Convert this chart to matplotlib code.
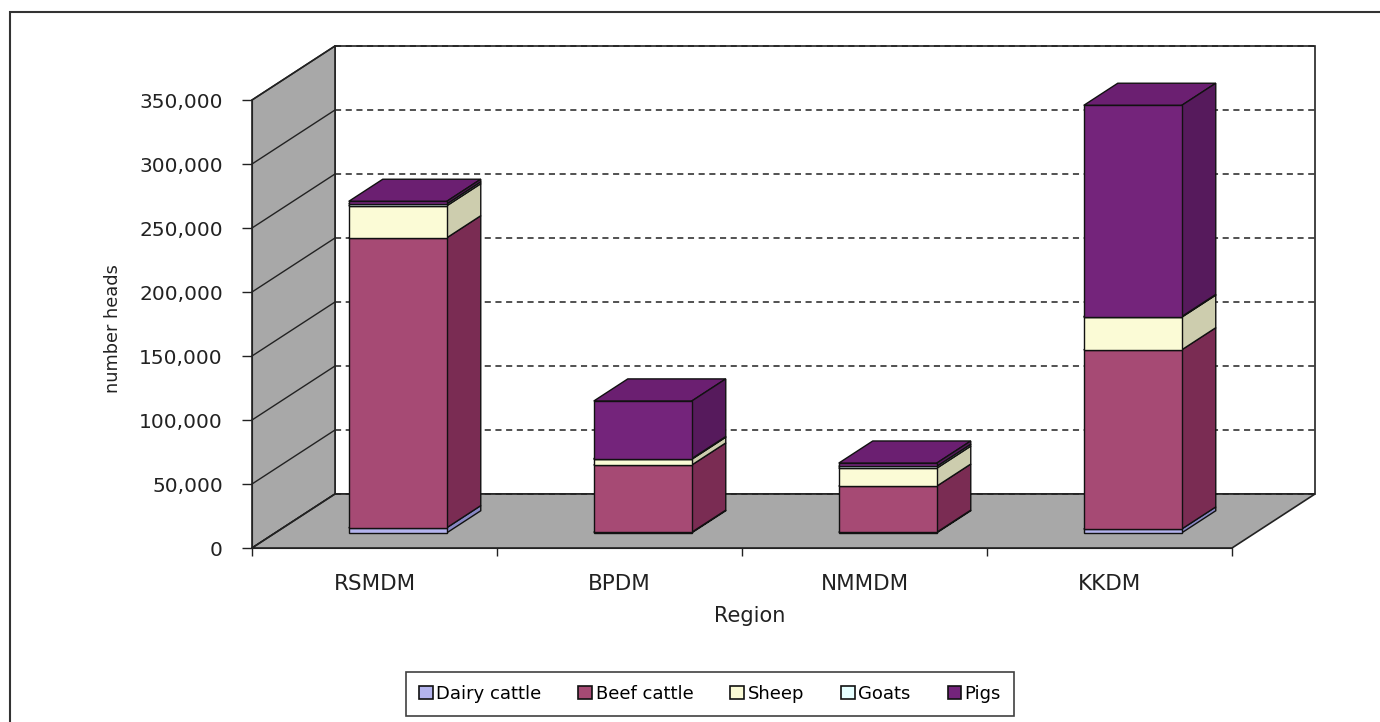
import numpy as np
import matplotlib
matplotlib.use("Agg")
import matplotlib.pyplot as plt
from matplotlib.patches import Polygon, Patch, Rectangle
from matplotlib.ticker import FixedLocator

plt.rcParams['font.family'] = ['DejaVu Sans']

# data (number of heads per region)
regions = ['RSMDM', 'BPDM', 'NMMDM', 'KKDM']
dairy_cattle = [4000, 500, 500, 3000]
beef_cattle = [226500, 52500, 36000, 140000]
sheep = [25000, 4500, 14000, 25500]
goats = [1500, 500, 1500, 500]
pigs = [2000, 45000, 2500, 165000]
series_names = ['Dairy cattle', 'Beef cattle', 'Sheep', 'Goats', 'Pigs']
y_ticks = [0, 50000, 100000, 150000, 200000, 250000, 300000, 350000]

series = [dairy_cattle, beef_cattle, sheep, goats, pigs]
# (front, side, top) colours for each series
colors = [('#b4b4ee', '#8888c4', '#a0a0dc'),
          ('#a64a74', '#7a2c53', '#8e3a62'),
          ('#fbfbd6', '#cdcdae', '#e6e6c2'),
          ('#e6ffff', '#b4cccc', '#cce6e6'),
          ('#74247b', '#561a5c', '#6b1f71')]

fig = plt.figure(figsize=(13.8, 7.22), dpi=100)
ax = fig.add_axes([252/1380, (722-548)/722, 980/1380, 448/722])
ax.set_xlim(0, 4)
ax.set_ylim(0, 350000)
ax.patch.set_visible(False)

# oblique 3D offset for full depth
DX = 83/245
DY = 54/448*350000

def proj(x, v, d):
    return (x + d*DX, v + d*DY)

ymax = y_ticks[-1]
n = len(regions)

# walls and floor
back = Polygon([proj(0, 0, 1), proj(n, 0, 1), proj(n, ymax, 1), proj(0, ymax, 1)],
               closed=True, fc='white', ec='#222222', lw=1.2, clip_on=False, zorder=1)
left = Polygon([proj(0, 0, 0), proj(0, 0, 1), proj(0, ymax, 1), proj(0, ymax, 0)],
               closed=True, fc='#a8a8a8', ec='#222222', lw=1.2, clip_on=False, zorder=1)
floor = Polygon([proj(0, 0, 0), proj(n, 0, 0), proj(n, 0, 1), proj(0, 0, 1)],
                closed=True, fc='#a8a8a8', ec='#222222', lw=1.2, clip_on=False, zorder=1)
for p in (back, left, floor):
    ax.add_patch(p)

# gridlines
for v in y_ticks:
    (xa, ya), (xb, yb) = proj(0, v, 1), proj(n, v, 1)
    ax.plot([xa, xb], [ya, yb], ls=(0, (4, 3)), color='#222222', lw=1.1, clip_on=False, zorder=2)
    (xa, ya), (xb, yb) = proj(0, v, 0), proj(0, v, 1)
    ax.plot([xa, xb], [ya, yb], color='#222222', lw=1.0, clip_on=False, zorder=2)

# stacked 3D bars
w = 0.4
d0, d1 = 0.28, 0.69
z = 3
for i in range(n):
    x0 = i + (1 - w)/2
    x1 = x0 + w
    base = 0
    for s, vals in enumerate(series):
        val = vals[i]
        if val <= 0:
            continue
        top = base + val
        fc, sc, tc = colors[s]
        front = [proj(x0, base, d0), proj(x1, base, d0), proj(x1, top, d0), proj(x0, top, d0)]
        side = [proj(x1, base, d0), proj(x1, base, d1), proj(x1, top, d1), proj(x1, top, d0)]
        lid = [proj(x0, top, d0), proj(x1, top, d0), proj(x1, top, d1), proj(x0, top, d1)]
        for pts, c in ((lid, tc), (side, sc), (front, fc)):
            ax.add_patch(Polygon(pts, closed=True, fc=c, ec='#111111', lw=1.0,
                                 clip_on=False, zorder=z))
            z += 0.01
        base = top

# axes
for sp in ('top', 'right'):
    ax.spines[sp].set_visible(False)
ax.spines['left'].set_color('#222222')
ax.spines['bottom'].set_color('#222222')
ax.spines['left'].set_zorder(2.5)
ax.spines['bottom'].set_zorder(2.5)

ax.set_yticks(y_ticks)
ax.set_yticklabels([f'{v:,}' for v in y_ticks])
ax.tick_params(axis='y', direction='out', length=7, width=1, pad=14,
               labelsize=14.5, labelcolor='#222222', color='#222222')

ax.xaxis.set_major_locator(FixedLocator(np.arange(n + 1)))
ax.xaxis.set_minor_locator(FixedLocator(np.arange(n) + 0.5))
ax.set_xticklabels([], minor=False)
ax.set_xticklabels(regions, minor=True)
ax.tick_params(axis='x', which='major', direction='out', length=6, width=1, color='#222222')
ax.tick_params(axis='x', which='minor', length=0, pad=19, labelsize=15.5, labelcolor='#222222')

ax.set_ylabel('number heads', fontsize=12.8, color='#222222')
ax.yaxis.set_label_coords((122-252)/980, (548-329)/448)
ax.set_xlabel('Region', fontsize=15, color='#222222')
ax.xaxis.set_label_coords((750-252)/980, (548-606)/448)

# legend
handles = [Patch(fc=colors[s][0], ec='#111111', lw=1.2) for s in range(len(series))]
leg = fig.legend(handles, series_names, loc='center', ncol=5,
                 bbox_to_anchor=(710/1380, 1 - 694/722), fontsize=13,
                 frameon=True, fancybox=False, edgecolor='#111111',
                 handlelength=0.75, handleheight=0.75, handletextpad=0.2,
                 columnspacing=2.05, borderpad=0.7, borderaxespad=0)
leg.get_frame().set_linewidth(1.2)

# chart border
fig.patches.append(Rectangle((10/1380, -0.1), 1.2, 1.1 - 12/722, transform=fig.transFigure,
                             fill=False, ec='#333333', lw=1.5))

plt.savefig('out.png', dpi=100)
